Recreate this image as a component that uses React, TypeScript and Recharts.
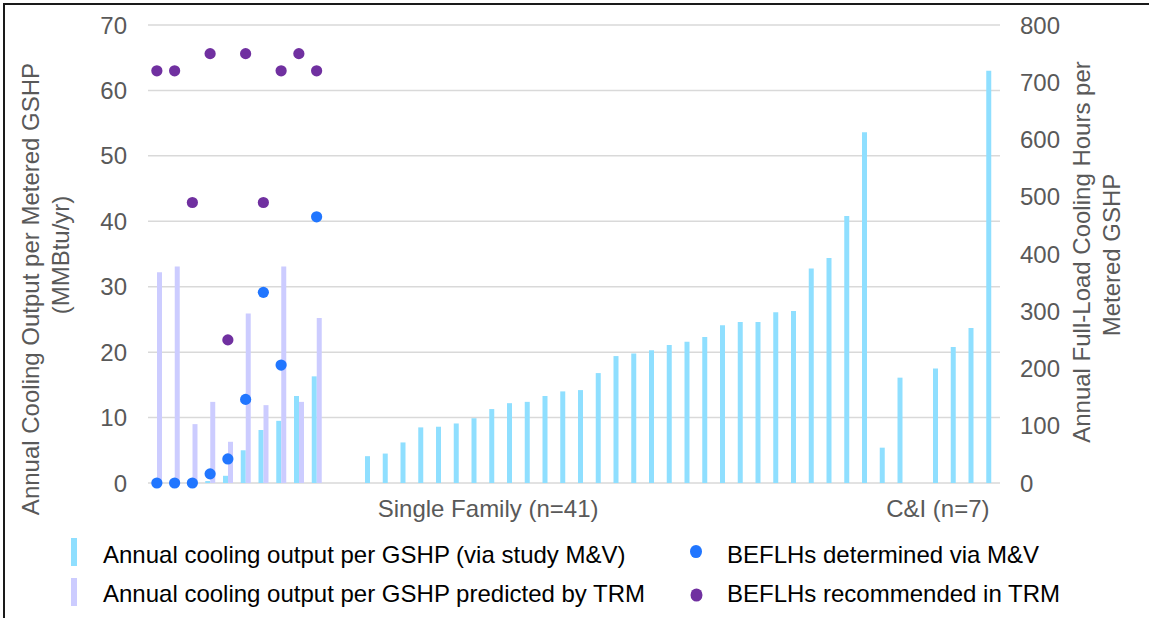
import React from 'react';
import { ComposedChart, Bar, Scatter, XAxis, YAxis, CartesianGrid, Legend } from 'recharts';

const categories = [
  'SF01', 'SF02', 'SF03', 'SF04', 'SF05', 'SF06', 'SF07', 'SF08', 'SF09', 'SF10',
  'SF11', 'SF12', 'SF13', 'SF14', 'SF15', 'SF16', 'SF17', 'SF18', 'SF19', 'SF20',
  'SF21', 'SF22', 'SF23', 'SF24', 'SF25', 'SF26', 'SF27', 'SF28', 'SF29', 'SF30',
  'SF31', 'SF32', 'SF33', 'SF34', 'SF35', 'SF36', 'SF37', 'SF38', 'SF39', 'SF40',
  'SF41', 'CI1', 'CI2', 'CI3', 'CI4', 'CI5', 'CI6', 'CI7',
];

// Annual cooling output per GSHP (via study M&V), MMBtu/yr
const studyOutput = [
  null, null, null, 0.3, 1.1, 5.0, 8.1, 9.5, 13.3, 16.3,
  null, null, 4.1, 4.5, 6.2, 8.5, 8.6, 9.1, 9.9, 11.3,
  12.2, 12.4, 13.3, 14.0, 14.2, 16.8, 19.4, 19.8, 20.3, 21.1,
  21.6, 22.3, 24.1, 24.6, 24.6, 26.1, 26.3, 32.8, 34.4, 40.8,
  53.6, 5.4, 16.1, null, 17.5, 20.8, 23.7, 63.0,
];

// Annual cooling output per GSHP predicted by TRM, MMBtu/yr
const trmOutput = [32.2, 33.1, 9.0, 12.4, 6.3, 25.9, 11.9, 33.1, 12.4, 25.2];

// BEFLHs determined via M&V (hours)
const beflhMV = [0, 0, 0, 16, 42, 146, 333, 206, null, 465];

// BEFLHs recommended in TRM (hours)
const beflhTRM = [720, 720, 490, 750, 250, 750, 490, 720, 750, 720];

const leftTicks = [0, 10, 20, 30, 40, 50, 60, 70];
const rightTicks = [0, 100, 200, 300, 400, 500, 600, 700, 800];

const groupLabels: Record<string, string> = {
  SF20: 'Single Family (n=41)',
  CI4: 'C&I (n=7)',
};

const seriesNames = {
  study: 'Annual cooling output per GSHP (via study M&V)',
  trm: 'Annual cooling output per GSHP predicted by TRM',
  mv: 'BEFLHs determined via M&V',
  trmH: 'BEFLHs recommended in TRM',
};

const leftTitle = ['Annual Cooling Output per Metered GSHP', '(MMBtu/yr)'];
const rightTitle = ['Annual Full-Load Cooling Hours per', 'Metered GSHP'];

const COLORS = {
  study: '#8FDFFF',
  trm: '#CCCCFF',
  mv: '#2176FF',
  trmH: '#7030A0',
  grid: '#D9D9D9',
  axisText: '#595959',
};

const FONT = '"Liberation Sans", Arial, sans-serif';

const data = categories.map((cat, i) => ({
  cat,
  study: studyOutput[i] ?? null,
  trm: trmOutput[i] ?? null,
  mv: beflhMV[i] ?? null,
  trmH: beflhTRM[i] ?? null,
}));

const groupLabelShift: Record<string, number> = { SF20: -6, CI4: 0 };

const renderXTick = (props: any) => {
  const { x, y, payload } = props;
  const label = groupLabels[payload.value];
  if (!label) return <g />;
  return (
    <text
      x={x + (groupLabelShift[payload.value] || 0)}
      y={y + 34}
      textAnchor="middle"
      fill={COLORS.axisText}
      fontSize={24}
      fontFamily={FONT}
    >
      {label}
    </text>
  );
};

const renderLeftTitle = () => (
  <g>
    <text
      transform="translate(39,289) rotate(-90)"
      textAnchor="middle"
      fill={COLORS.axisText}
      fontSize={24}
      fontFamily={FONT}
    >
      {leftTitle[0]}
    </text>
    <text
      transform="translate(69,255) rotate(-90)"
      textAnchor="middle"
      fill={COLORS.axisText}
      fontSize={24}
      fontFamily={FONT}
    >
      {leftTitle[1]}
    </text>
  </g>
);

const renderRightTitle = () => (
  <g>
    <text
      transform="translate(1090,252) rotate(-90)"
      textAnchor="middle"
      fill={COLORS.axisText}
      fontSize={24}
      fontFamily={FONT}
    >
      {rightTitle[0]}
    </text>
    <text
      transform="translate(1120,255) rotate(-90)"
      textAnchor="middle"
      fill={COLORS.axisText}
      fontSize={24}
      fontFamily={FONT}
    >
      {rightTitle[1]}
    </text>
  </g>
);

const makeDot = (color: string) => (props: any) => {
  const { cx, cy } = props;
  if (cx == null || cy == null || Number.isNaN(cx) || Number.isNaN(cy)) return <g />;
  return <circle cx={cx} cy={cy} r={5.6} fill={color} />;
};

const renderLegend = (props: any) => {
  const payload: any[] = props.payload || [];
  const nameOf = (key: string) => {
    const p = payload.find((e) => e.dataKey === key);
    return (p && p.value) || (seriesNames as any)[key];
  };
  const textStyle = { fontSize: 24, fontFamily: FONT, fill: '#000' };
  return (
    <svg width={1149} height={93} style={{ display: 'block' }}>
      <rect x={71} y={13} width={6} height={28} fill={COLORS.study} />
      <text x={103} y={37.5} {...textStyle}>{nameOf('study')}</text>
      <rect x={71} y={53} width={6} height={28} fill={COLORS.trm} />
      <text x={103} y={76.5} {...textStyle}>{nameOf('trm')}</text>
      <ellipse cx={696} cy={26.5} rx={6} ry={6.6} fill={COLORS.mv} />
      <text x={727} y={38} {...textStyle}>{nameOf('mv')}</text>
      <ellipse cx={696.5} cy={70} rx={6} ry={6.6} fill={COLORS.trmH} />
      <text x={727} y={77} {...textStyle}>{nameOf('trmH')}</text>
    </svg>
  );
};

export default function App() {
  return (
    <div
      style={{
        position: 'absolute',
        left: 0,
        top: 0,
        width: 1149,
        height: 618,
        background: '#fff',
        fontFamily: FONT,
        overflow: 'hidden',
      }}
    >
      <div
        style={{
          position: 'absolute',
          left: 3,
          top: 3,
          width: 1160,
          height: 640,
          borderTop: '2px solid #1a1a1a',
          borderLeft: '2px solid #1a1a1a',
          boxSizing: 'border-box',
        }}
      />
      <ComposedChart
        width={1149}
        height={618}
        data={data}
        margin={{ top: 25, right: 0, left: 0, bottom: 2 }}
        barGap={0}
        style={{ position: 'absolute', left: 0, top: 0 }}
      >
        <CartesianGrid
          yAxisId="left"
          vertical={false}
          stroke={COLORS.grid}
          strokeWidth={1.5}
        />
        <XAxis
          dataKey="cat"
          height={40}
          interval={0}
          tickLine={false}
          axisLine={false}
          tickSize={0}
          tickMargin={0}
          tick={renderXTick}
        />
        <YAxis
          yAxisId="left"
          orientation="left"
          width={148}
          domain={[0, 70]}
          ticks={leftTicks}
          tickLine={false}
          axisLine={false}
          tickSize={0}
          tickMargin={21}
          tick={{ fill: COLORS.axisText, fontSize: 24, fontFamily: FONT }}
          label={renderLeftTitle}
        />
        <YAxis
          yAxisId="right"
          orientation="right"
          width={149}
          domain={[0, 800]}
          ticks={rightTicks}
          tickLine={false}
          axisLine={false}
          tickSize={0}
          tickMargin={20}
          tick={{ fill: COLORS.axisText, fontSize: 24, fontFamily: FONT }}
          label={renderRightTitle}
        />
        <Legend
          verticalAlign="bottom"
          content={renderLegend}
          wrapperStyle={{ position: 'absolute', left: 0, top: 525, width: 1149, height: 93 }}
        />
        <Bar
          yAxisId="left"
          dataKey="study"
          name={seriesNames.study}
          fill={COLORS.study}
          barSize={5}
          isAnimationActive={false}
        />
        <Bar
          yAxisId="left"
          dataKey="trm"
          name={seriesNames.trm}
          fill={COLORS.trm}
          barSize={5}
          isAnimationActive={false}
        />
        <Scatter
          yAxisId="right"
          dataKey="mv"
          name={seriesNames.mv}
          fill={COLORS.mv}
          shape={makeDot(COLORS.mv)}
          isAnimationActive={false}
        />
        <Scatter
          yAxisId="right"
          dataKey="trmH"
          name={seriesNames.trmH}
          fill={COLORS.trmH}
          shape={makeDot(COLORS.trmH)}
          isAnimationActive={false}
        />
      </ComposedChart>
    </div>
  );
}
